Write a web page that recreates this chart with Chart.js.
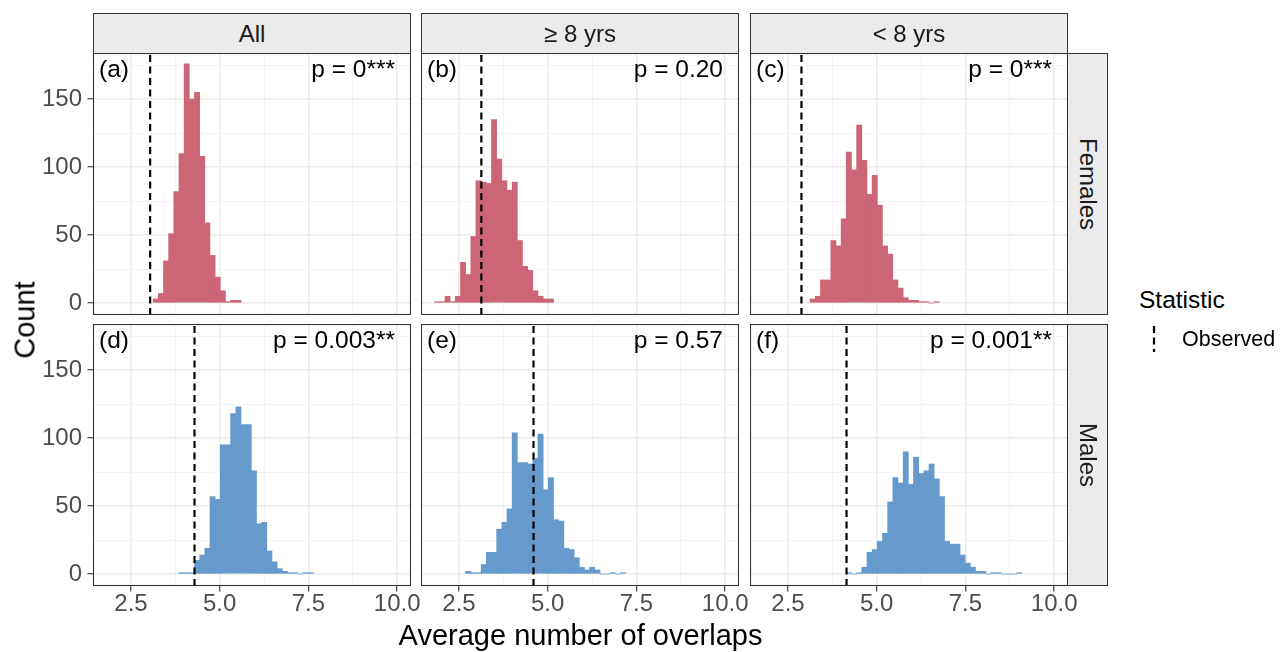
<!DOCTYPE html>
<html><head><meta charset="utf-8">
<script src="https://cdn.jsdelivr.net/npm/chart.js@4.4.1/dist/chart.umd.min.js"></script>
<style>
html,body{margin:0;padding:0;background:#fff;}
body{width:1287px;height:652px;overflow:hidden;position:relative;font-family:'Liberation Sans',Arial,sans-serif;}
canvas{position:absolute;}
.strip{position:absolute;box-sizing:border-box;border:1px solid #333;background:#EBEBEB;color:#1A1A1A;font-size:24px;line-height:24px;display:flex;align-items:center;justify-content:center;}
.txt{position:absolute;white-space:nowrap;color:#000;}
.rot{position:absolute;white-space:nowrap;}
</style></head><body>
<script>
// ---------------- data ----------------
const colLabels = ['All', '\u2265 8 yrs', '< 8 yrs'];
const rowLabels = ['Females', 'Males'];
const panelTags = ['(a)', '(b)', '(c)', '(d)', '(e)', '(f)'];
const pTexts = ['p = 0***', 'p = 0.20', 'p = 0***', 'p = 0.003**', 'p = 0.57', 'p = 0.001**'];
const binWidth = 0.1456;
// left edge of the first histogram bin in each panel (x units)
const firstBinEdge = [3.124, 1.814, 3.124, 3.852, 2.688, 4.144];
const countsA = [3, 7, 31, 51, 82, 110, 176, 150, 155, 108, 59, 35, 19, 9, 1, 2, 2];
const countsB = [1, 1, 5, 1, 5, 30, 21, 49, 90, 89, 88, 135, 106, 90, 83, 89, 46, 27, 24, 9, 5, 3, 3];
const countsC = [3, 5, 17, 17, 46, 42, 62, 111, 98, 131, 105, 80, 94, 72, 42, 36, 17, 11, 4, 2, 2, 1, 1, 0, 1];
const countsD = [1, 1, 1, 10, 14, 19, 57, 55, 95, 95, 118, 123, 110, 110, 76, 37, 38, 17, 9, 4, 2, 1, 1, 0, 1, 1];
const countsE = [2, 1, 1, 7, 16, 16, 33, 38, 48, 104, 82, 82, 81, 85, 103, 62, 71, 40, 39, 19, 18, 12, 5, 3, 5, 3, 0, 0, 1, 0, 1];
const countsF = [1, 0, 1, 5, 16, 18, 24, 30, 53, 71, 67, 90, 66, 86, 74, 76, 81, 70, 57, 24, 22, 22, 14, 8, 5, 2, 2, 0, 1, 1, 0, 0, 0, 1];
const observed = [3.04, 3.13, 2.88, 4.29, 4.60, 4.15];
const xTickStep = 1.25, xLabelStep = 2.5;
const yTickStep = 25, yLabelStep = 50;
const xMin = 1.43, xMax = 10.39, yMin = -8.8, yMax = 184;
const legendTitle = 'Statistic', legendLabel = 'Observed';
const xTitle = 'Average number of overlaps', yTitle = 'Count';

// ---------------- layout / style ----------------
const colLeft = [93, 421, 750], panelW = 318;
const rowTop = [53, 324], panelH = 262;
const rowColors = ['#CC6677', '#6699CC'];
const allCounts = [countsA, countsB, countsC, countsD, countsE, countsF];
const FONT = 'Liberation Sans';

function isMajor(v, step){ const r = v / step; return Math.abs(r - Math.round(r)) < 1e-6; }

const panelBox = {
  id: 'panelBox',
  afterDraw(chart){
    const a = chart.chartArea, c = chart.ctx;
    c.save(); c.strokeStyle = '#333333'; c.lineWidth = 1.1;
    c.strokeRect(Math.round(a.left) + 0.5, Math.round(a.top) + 0.5, Math.round(a.right - a.left) - 1, Math.round(a.bottom - a.top) - 1);
    c.restore();
  }
};

function addDiv(cls, text, css){
  const d = document.createElement('div'); d.className = cls; d.textContent = text;
  Object.assign(d.style, css); document.body.appendChild(d); return d;
}

function makePanel(i){
  const r = Math.floor(i / 3), c = i % 3;
  const isLeft = c === 0, isBottom = r === 1;
  const padL = isLeft ? 93 : 0, padB = isBottom ? 50 : 0, padR = isBottom ? 25 : 0;
  const cv = document.createElement('canvas');
  cv.width = panelW + padL + padR; cv.height = panelH + padB;
  cv.style.left = (colLeft[c] - padL) + 'px'; cv.style.top = rowTop[r] + 'px';
  cv.style.width = cv.width + 'px'; cv.style.height = cv.height + 'px';
  document.body.appendChild(cv);
  const bars = allCounts[i].map((n, k) => ({ x: firstBinEdge[i] + (k + 0.5) * binWidth, y: n }));
  const gridColor = (step) => (ctx) => isMajor(ctx.tick.value, step) ? '#EBEBEB' : '#F3F3F3';
  const gridWidth = (step) => (ctx) => isMajor(ctx.tick.value, step) ? 1.5 : 1;
  const tickCol = (step) => (ctx) => isMajor(ctx.tick.value, step) ? '#333333' : 'rgba(0,0,0,0)';
  new Chart(cv, {
    type: 'bar',
    data: { datasets: [
      { type: 'line', data: [{ x: observed[i], y: yMin }, { x: observed[i], y: yMax }],
        borderColor: '#000', borderWidth: 2.2, borderDash: [7, 4.5], pointRadius: 0, fill: false, tension: 0, order: 0 },
      { type: 'bar', data: bars, backgroundColor: rowColors[r], borderWidth: 0,
        barPercentage: 1, categoryPercentage: 1, order: 1 }
    ]},
    options: {
      responsive: false, animation: false, devicePixelRatio: 1,
      layout: { padding: { left: 0, top: 0, bottom: 0, right: padR }, autoPadding: false },
      plugins: { legend: { display: false }, tooltip: { enabled: false } },
      scales: {
        x: {
          type: 'linear', min: xMin, max: xMax, offset: false,
          border: { display: false },
          grid: { offset: false, color: gridColor(xLabelStep), lineWidth: gridWidth(xLabelStep),
                  drawTicks: isBottom, tickLength: 5.5, tickColor: tickCol(xLabelStep), tickWidth: 1.1 },
          ticks: { display: isBottom, stepSize: xTickStep, includeBounds: false, autoSkip: false, maxRotation: 0,
                   padding: 1, color: '#4D4D4D', font: { family: FONT, size: 24, lineHeight: 1 },
                   callback: v => isMajor(v, xLabelStep) ? v.toFixed(1) : '' },
          afterFit: s => { s.height = padB; s.paddingLeft = 0; s.paddingRight = 0; }
        },
        y: {
          type: 'linear', min: yMin, max: yMax,
          border: { display: false },
          grid: { color: gridColor(yLabelStep), lineWidth: gridWidth(yLabelStep),
                  drawTicks: isLeft, tickLength: 5.5, tickColor: tickCol(yLabelStep), tickWidth: 1.1 },
          ticks: { display: isLeft, stepSize: yTickStep, includeBounds: false, autoSkip: false,
                   padding: 5.5, color: '#4D4D4D', font: { family: FONT, size: 24 },
                   callback: v => isMajor(v, yLabelStep) ? String(Math.round(v)) : '' },
          afterFit: s => { s.width = padL; s.paddingTop = 0; s.paddingBottom = 0; }
        }
      }
    },
    plugins: [panelBox]
  });
  // panel annotations
  const base = rowTop[r] + 25;
  addDiv('txt', panelTags[i], { left: (colLeft[c] + 6) + 'px', top: (base - 20.7) + 'px', fontSize: '24.5px', lineHeight: '24.5px' });
  addDiv('txt', pTexts[i], { left: (colLeft[c] + panelW - 16) + 'px', top: (base - 20.7) + 'px', fontSize: '24.5px', lineHeight: '24.5px', transform: 'translateX(-100%)' });
}

for (let i = 0; i < 6; i++) makePanel(i);

// strips
colLabels.forEach((t, c) => addDiv('strip', t, { left: colLeft[c] + 'px', top: '13px', width: panelW + 'px', height: '41px', paddingTop: '1px' }));
rowLabels.forEach((t, r) => {
  addDiv('strip', '', { left: '1067px', top: rowTop[r] + 'px', width: '41px', height: panelH + 'px' });
  addDiv('rot', t, { left: '1088px', top: (rowTop[r] + panelH / 2) + 'px', fontSize: '24px', lineHeight: '24px', color: '#1A1A1A',
    transform: 'translate(-50%,-50%) rotate(90deg)' });
});

// axis titles
addDiv('rot', yTitle, { left: '25px', top: '320px', fontSize: '29px', lineHeight: '29px', color: '#000', transform: 'translate(-50%,-50%) rotate(-90deg)' });
addDiv('txt', xTitle, { left: '580.5px', top: '620.5px', fontSize: '29px', lineHeight: '29px', transform: 'translateX(-50%)' });

// legend
addDiv('txt', legendTitle, { left: '1139px', top: '287.6px', fontSize: '24.5px', lineHeight: '24.5px' });
addDiv('txt', legendLabel, { left: '1182px', top: '328.5px', fontSize: '21.5px', lineHeight: '21.5px' });
const svgNS = 'http://www.w3.org/2000/svg';
const svg = document.createElementNS(svgNS, 'svg');
svg.setAttribute('width', '20'); svg.setAttribute('height', '30');
svg.style.position = 'absolute'; svg.style.left = '1144px'; svg.style.top = '324px';
const ln = document.createElementNS(svgNS, 'line');
ln.setAttribute('x1', '10'); ln.setAttribute('x2', '10'); ln.setAttribute('y1', '2'); ln.setAttribute('y2', '28');
ln.setAttribute('stroke', '#000'); ln.setAttribute('stroke-width', '2.2'); ln.setAttribute('stroke-dasharray', '7 4.5');
svg.appendChild(ln); document.body.appendChild(svg);
</script>
</body></html>
